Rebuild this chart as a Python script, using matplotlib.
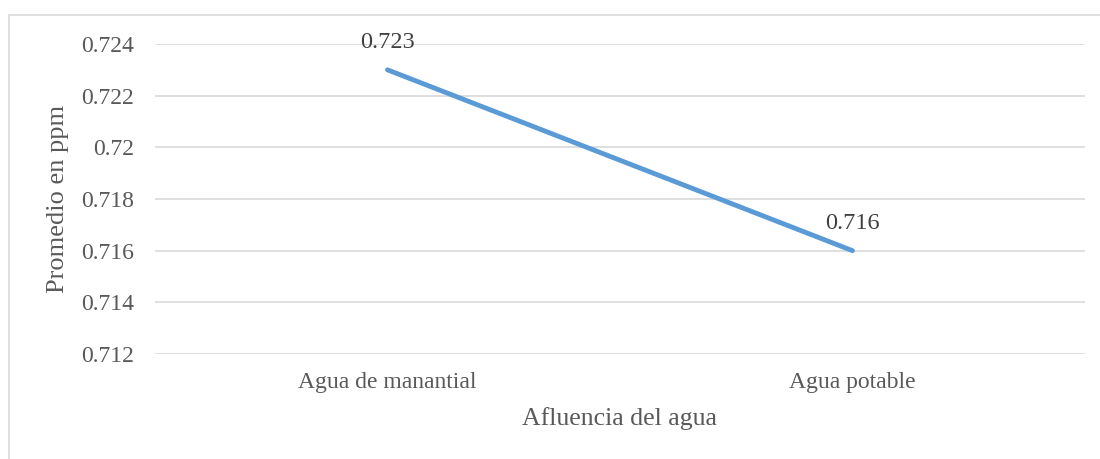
import matplotlib
matplotlib.use("Agg")
import matplotlib.pyplot as plt
from matplotlib.patches import Rectangle

categories = ["Agua de manantial", "Agua potable"]
values = [0.723, 0.716]
yticks = [0.712, 0.714, 0.716, 0.718, 0.72, 0.722, 0.724]
ytick_labels = ["0.712", "0.714", "0.716", "0.718", "0.72", "0.722", "0.724"]

TEXT = "#595959"
BLUE = "#5B9BD5"
GRID = "#D9D9D9"

plt.rcParams["font.family"] = ["Liberation Serif", "DejaVu Serif"]

fig = plt.figure(figsize=(11, 4.59), dpi=100)
ax = fig.add_axes([155 / 1100, 1 - 354 / 459, 930 / 1100, 310 / 459])

# outer chart border (Excel style), right and bottom edges run off the image
fig.patches.append(Rectangle((9 / 1100, -0.05), 1.1, 1.05 - 15 / 459,
                             transform=fig.transFigure, fill=False,
                             edgecolor=GRID, lw=1.2))

x = list(range(len(categories)))
ax.plot(x, values, color=BLUE, lw=3.5, solid_capstyle="round")
for xi, v in zip(x, values):
    ax.annotate(f"{v:.3f}", (xi, v), xytext=(0, 12), textcoords="offset points",
                ha="center", va="bottom", fontsize=17.5, color="#404040")

ax.set_xlim(-0.5, 1.5)
ax.set_ylim(0.712, 0.724)
ax.set_yticks(yticks)
ax.set_yticklabels(ytick_labels)
ax.set_xticks(x)
ax.set_xticklabels(categories)
ax.tick_params(axis="both", length=0, labelsize=17, labelcolor=TEXT)
ax.tick_params(axis="y", pad=15)
ax.tick_params(axis="x", pad=13)
ax.grid(axis="y", color=GRID, lw=1.2)
ax.set_axisbelow(True)
for s in ax.spines.values():
    s.set_visible(False)

ax.set_xlabel("Afluencia del agua", fontsize=18.5, color=TEXT, labelpad=10)
ax.set_ylabel("Promedio en ppm", fontsize=19, color=TEXT)
ax.yaxis.set_label_coords(-0.0925, 0.5)

fig.savefig("out.png", dpi=100)
